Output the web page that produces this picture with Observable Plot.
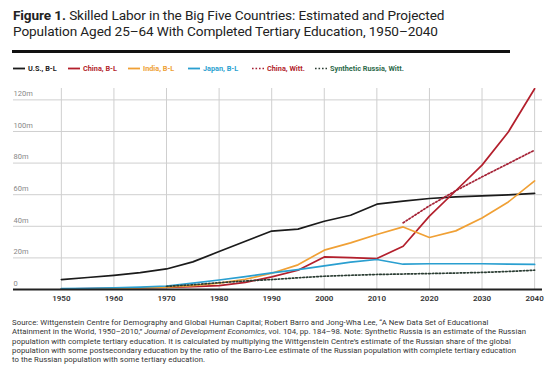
<!DOCTYPE html>
<html><head><meta charset="utf-8">
<script src="https://cdn.jsdelivr.net/npm/d3@7"></script>
<script src="https://cdn.jsdelivr.net/npm/@observablehq/plot@0.6"></script>
<style>
body{margin:0;width:554px;height:369px;background:#fff;font-family:Roboto,"Liberation Sans",sans-serif;position:relative;overflow:hidden}
#title{position:absolute;left:13px;top:7px;font-size:13.6px;line-height:16px;color:#222;letter-spacing:-0.1px}
#title b{font-weight:700}
#rule{position:absolute;left:12px;top:50px;width:498px;height:3px;background:#111}
#legend{position:absolute;left:0;top:64px;font-size:7.3px;font-weight:700;white-space:nowrap}
#legend span.item{position:absolute;top:0;display:flex;align-items:center}
#legend svg{margin-right:3px}
#chart{position:absolute;left:0;top:80px}
#caption{position:absolute;left:12px;top:318px;font-size:7.75px;letter-spacing:0.06px;line-height:9.3px;color:#333;white-space:nowrap}
</style></head>
<body>
<div id="title"><b>Figure 1.</b> Skilled Labor in the Big Five Countries: Estimated and Projected<br>Population Aged 25–64 With Completed Tertiary Education, 1950–2040</div>
<div id="rule"></div>
<div id="legend"></div>
<div id="chart"></div>
<div id="caption">Source: Wittgenstein Centre for Demography and Global Human Capital; Robert Barro and Jong-Wha Lee, “A New Data Set of Educational<br>Attainment in the World, 1950–2010,” <i>Journal of Development Economics</i>, vol. 104, pp. 184–98. Note: Synthetic Russia is an estimate of the Russian<br>population with complete tertiary education. It is calculated by multiplying the Wittgenstein Centre’s estimate of the Russian share of the global<br>population with some postsecondary education by the ratio of the Barro-Lee estimate of the Russian population with complete tertiary education<br>to the Russian population with some tertiary education.</div>
<script>
const yearsBL = [1950,1955,1960,1965,1970,1975,1980,1985,1990,1995,2000,2005,2010,2015,2020,2025,2030,2035,2040];
const usBL    = [6.3,7.6,9,10.7,13,17.5,24,30.5,37,38.2,43.2,47,54,55.9,57.6,58.6,59.3,59.9,60.8];
const chinaBL = [0.3,0.5,0.8,1.0,1.3,1.8,2.5,4.5,8,12.2,20.6,20.2,19.6,27.4,46.4,62.5,78.7,99.7,127];
const indiaBL = [0.2,0.4,0.6,1.0,1.5,2.5,4,6.5,10.3,15.6,24.9,29.5,34.8,39.6,32.9,37.1,45.3,55.4,68.7];
const japanBL = [0.5,0.8,1.1,1.5,2.2,4,6,8.2,10.5,12.6,15,17.3,19,16,16.3,16.3,16.3,16.1,15.9];
const yearsChinaWitt = [2015,2020,2025,2030,2035,2040];
const chinaWitt = [42.2,53,62.5,71.3,79.7,88.2];
const yearsRussia = [1970,1975,1980,1985,1990,1995,2000,2005,2010,2015,2020,2025,2030,2035,2040];
const russiaWitt = [2,3,4.3,5.4,6.3,7.4,8.4,9,9.5,9.8,10.1,10.4,10.8,11.4,12.2];
const xTicks = [1950,1960,1970,1980,1990,2000,2010,2020,2030,2040];
const yTicks = [0,20,40,60,80,100,120];

const seriesDefs = [
  {name:"U.S., B-L", years:yearsBL, values:usBL, color:"#1b1b1b", dash:null, text:"#1b1b1b"},
  {name:"China, B-L", years:yearsBL, values:chinaBL, color:"#b31f2c", dash:null, text:"#b31f2c"},
  {name:"India, B-L", years:yearsBL, values:indiaBL, color:"#f0a035", dash:null, text:"#eea035"},
  {name:"Japan, B-L", years:yearsBL, values:japanBL, color:"#2a9fd0", dash:null, text:"#2a9fd0"},
  {name:"China, Witt.", years:yearsChinaWitt, values:chinaWitt, color:"#a52236", dash:"1.6,1.9", text:"#b31f2c"},
  {name:"Synthetic Russia, Witt.", years:yearsRussia, values:russiaWitt, color:"#2b3d33", dash:"1.6,1.9", text:"#2e6a4b"}
];
const legendX = [13,68,128,188,252,315];

// legend
const leg = document.getElementById("legend");
seriesDefs.forEach((s,i)=>{
  const it = document.createElement("span");
  it.className="item";
  it.style.left = legendX[i]+"px";
  it.innerHTML = `<svg width="12" height="9"><line x1="0" x2="12" y1="4.5" y2="4.5" stroke="${s.color}" stroke-width="${s.dash?1.6:1.8}" ${s.dash?`stroke-dasharray="${s.dash}"`:""}/></svg><span style="color:${s.text}">${s.name}</span>`;
  leg.appendChild(it);
});

const marks = [
  Plot.gridX(xTicks, {stroke:"#cfcfcf", strokeOpacity:1, strokeWidth:1}),
  Plot.gridY(yTicks.filter(d=>d>0), {stroke:"#cfcfcf", strokeOpacity:1, strokeWidth:1}),
  Plot.axisY(yTicks, {anchor:"left", tickSize:0, tickPadding:0, textAnchor:"start", dy:-6, fontSize:7.5, fill:"#888", tickFormat:d=> d===0?"0":d+"m", label:null}),
  Plot.axisX(xTicks, {anchor:"bottom", tickSize:0, tickPadding:6, fontSize:8, fontWeight:600, fill:"#333", tickFormat:d=>String(d), label:null}),
];
seriesDefs.forEach(s=>{
  const data = s.years.map((y,i)=>({year:y, value:s.values[i]}));
  marks.push(Plot.line(data, {x:"year", y:"value", stroke:s.color, strokeWidth:1.7, strokeDasharray:s.dash||undefined, curve:"linear"}));
});
marks.push(Plot.ruleY([0], {stroke:"#222", strokeWidth:1.8}));

const chart = Plot.plot({
  width:554, height:230,
  marginLeft:13, marginRight:12, marginTop:8, marginBottom:21,
  x:{domain:[1940.9,2041.5]},
  y:{domain:[0,127.2]},
  style:{fontFamily:"Roboto, sans-serif", background:"transparent"},
  marks
});
document.getElementById("chart").appendChild(chart);
</script>
</body></html>
